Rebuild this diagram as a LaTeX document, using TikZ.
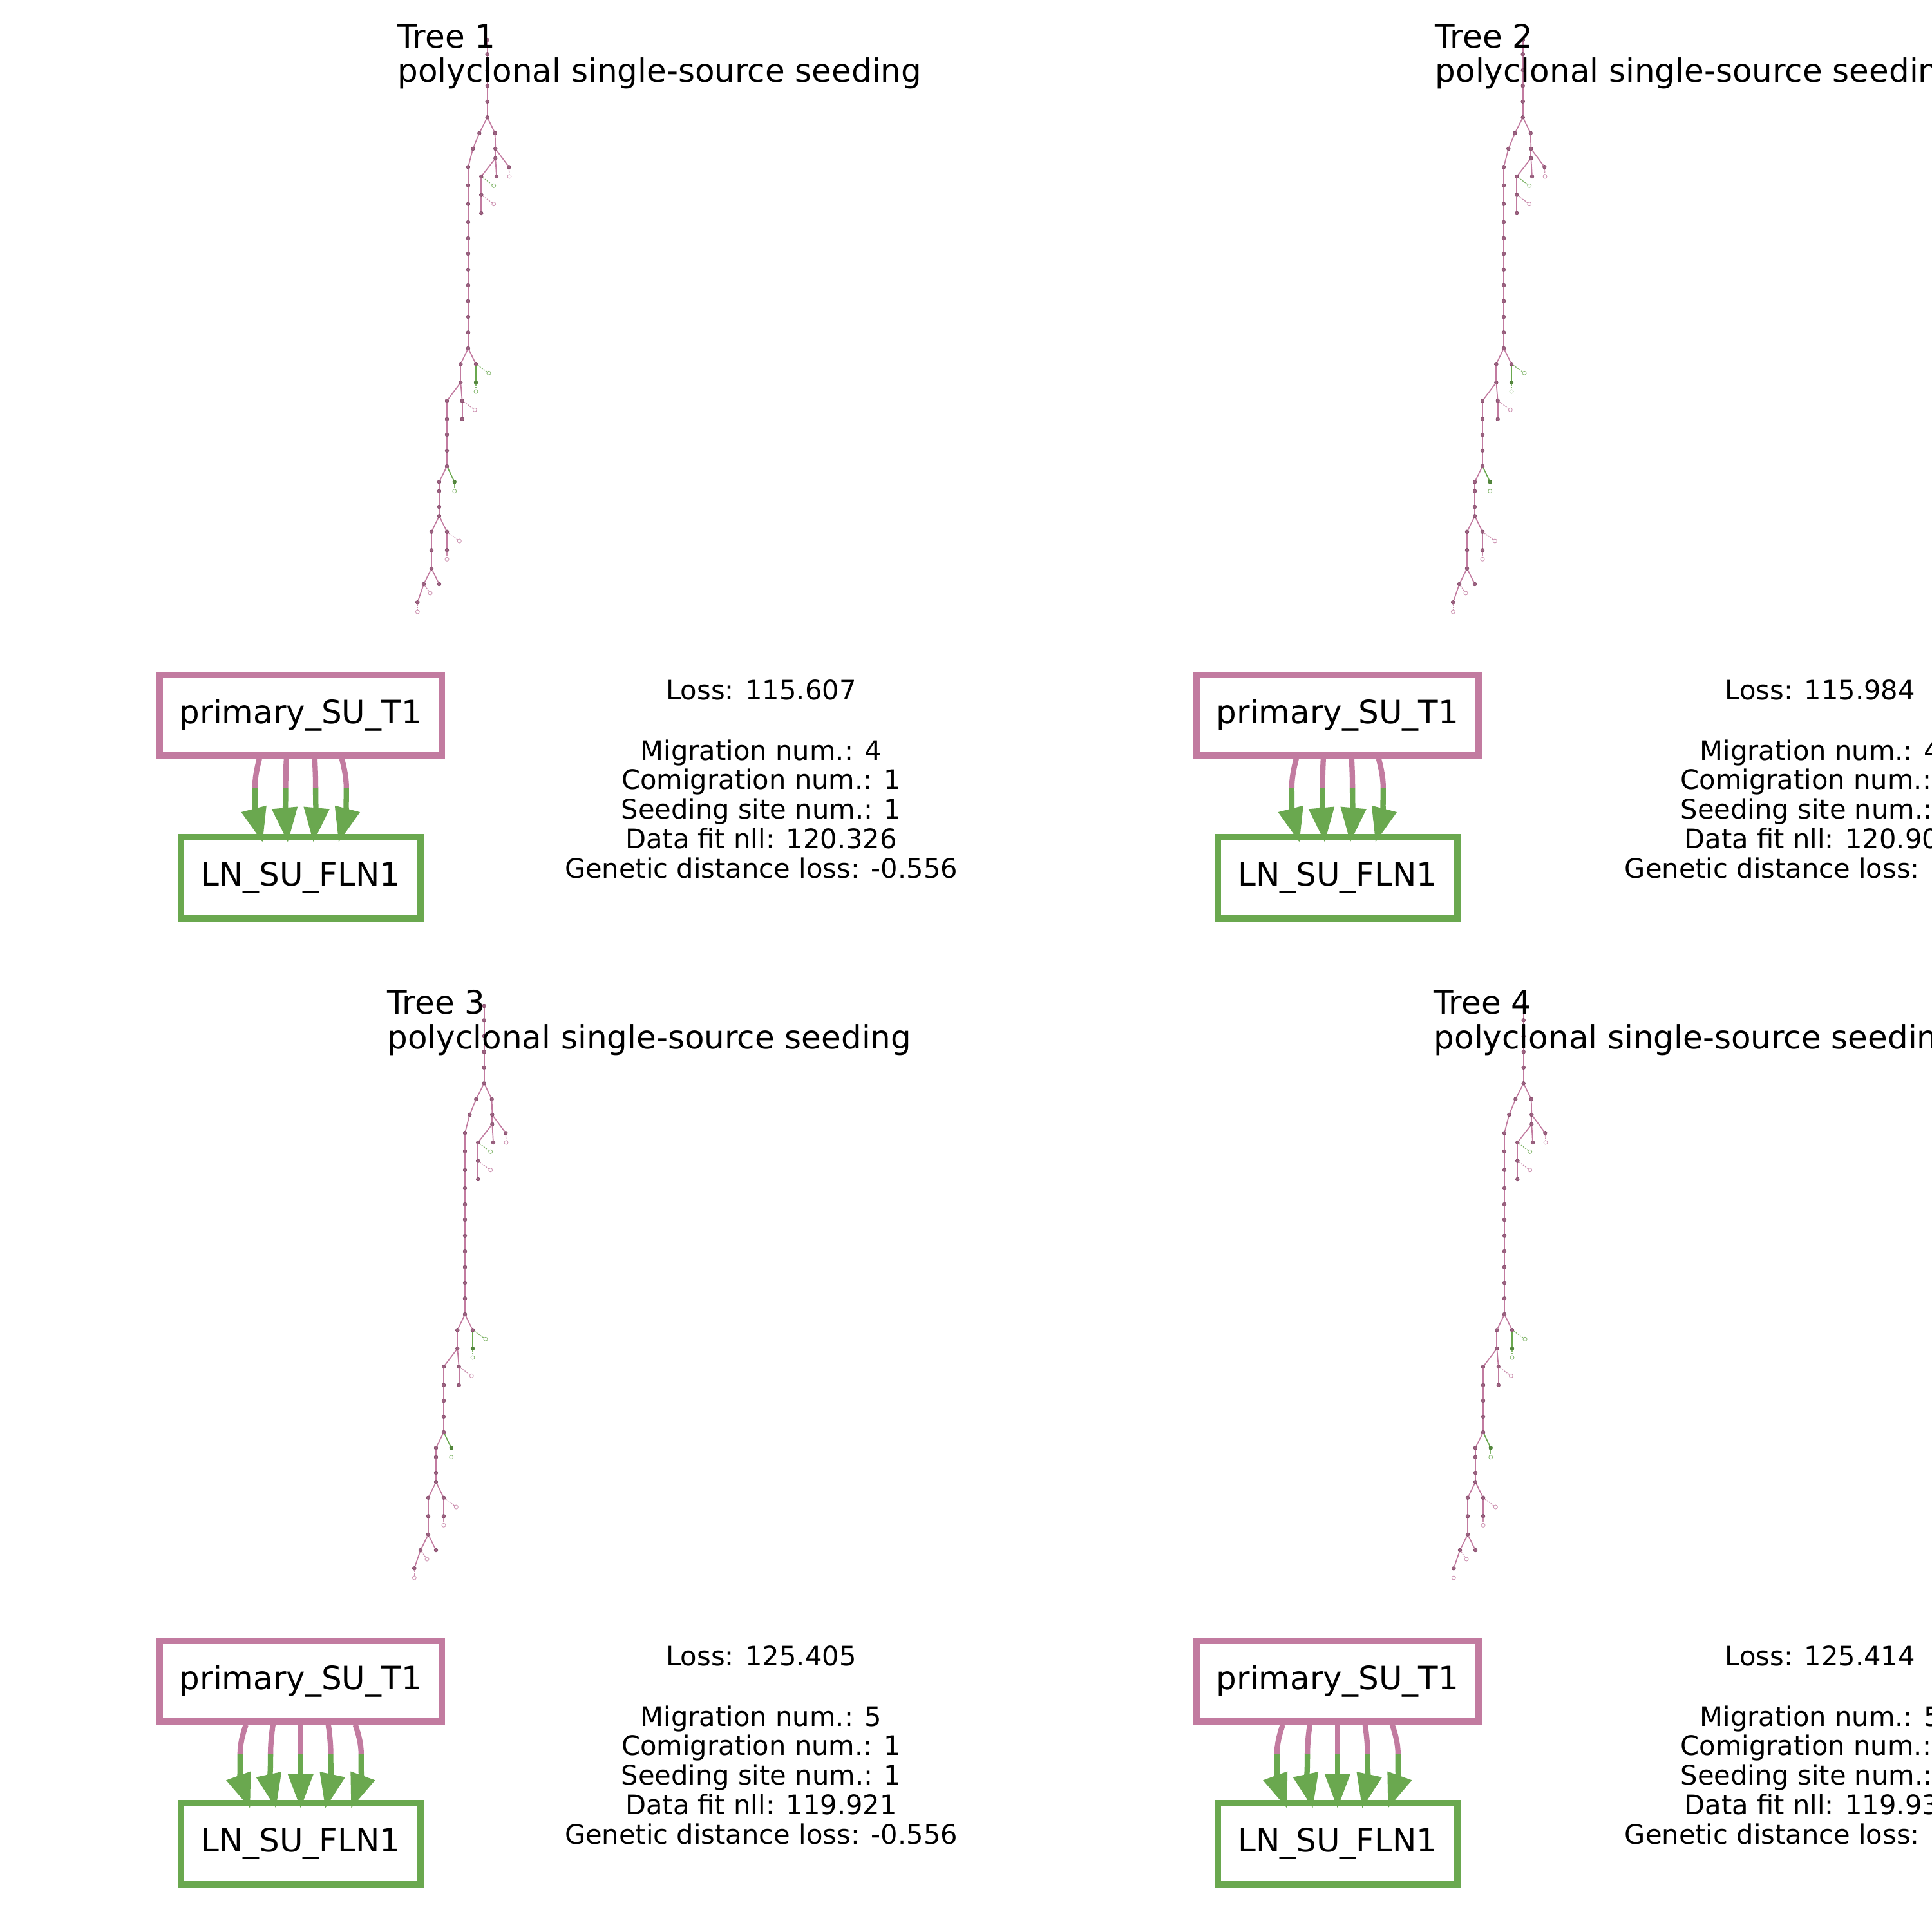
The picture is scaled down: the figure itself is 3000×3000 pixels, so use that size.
\documentclass[tikz,border=0pt]{standalone}
\usepackage{fontspec}
\setmainfont{DejaVu Sans}
\usetikzlibrary{arrows.meta,calc}
\definecolor{pk}{HTML}{C27BA0}
\definecolor{gr}{HTML}{6AA84F}
\definecolor{pkd}{HTML}{7E3F62}
\definecolor{grd}{HTML}{3E7A26}
\newcommand{\bigfont}{\fontsize{14.2}{17}\selectfont}
\newcommand{\statfont}{\fontsize{11.84}{14}\selectfont}
\newcommand{\drawtree}[3]{%
\begin{scope}[shift={(#1,#2)}]
\foreach \nm/\x/\y in {n0/756.7/62, n1/756.7/84.3, n2/756.7/109, n3/756.7/133.3, n4/756.7/157.7, n5/756.7/182.3,
 a1/744.3/206.7, a2/734.3/231, b1/768.7/206.7, b2/769.3/231, b3/769.3/245.7, b4/790.3/259.3, b5/771/274, b6/747.3/274, b7/747.3/302.7, b8/747.3/331,
 c1/727/259.3, c2/727/287.7, c3/727/316.7, c4/727/345, c5/727/370, c6/727/394, c7/727/418.7, c8/727/443, c9/727/467.7, c10/727/492, c11/727/516.3, c12/727/541,
 d1/715.3/565.3, d2/715.3/594, e1/739/565.3, f1/694/622.3, f2/694/650.7, f3/694/675, f4/694/699.7, f5/694/724,
 g1/717.7/622.3, g2/717.7/650.7, h1/682/748.3, h2/682/762.7, h3/682/787, h4/682/801.3,
 j1/670/825.7, j2/670/854.3, j3/670/882.7, k1/694/825.7, k2/694/854.3, l1/658/907, l2/648.3/935.3, m1/682/907}
 {\node[tn] (#3\nm) at (\x,\y) {};}
\foreach \nm/\x/\y in {e2/739/594, i1/705.7/748.3}
 {\node[tg] (#3\nm) at (\x,\y) {};}
\foreach \nm/\x/\y in {b4h/791/274, b7h/766.7/316.7, g1h/737.3/636.3, k1h/713.3/840, k2h/694/868.3, l1h/668/921, l2h/648.3/950}
 {\node[th] (#3\nm) at (\x,\y) {};}
\foreach \nm/\x/\y in {b6h/766.7/288.3, e1h/759/579.3, e2h/739/608, i1h/705.7/762.7}
 {\node[thg] (#3\nm) at (\x,\y) {};}
\foreach \a/\b in {n0/n1, n1/n2, n2/n3, n3/n4, n4/n5, n5/a1, a1/a2, a2/c1, n5/b1, b1/b2, b2/b3, b2/b4, b3/b5, b3/b6, b6/b7, b7/b8,
 c1/c2, c2/c3, c3/c4, c4/c5, c5/c6, c6/c7, c7/c8, c8/c9, c9/c10, c10/c11, c11/c12, c12/d1, c12/e1, d1/d2, d2/f1, d2/g1, g1/g2,
 f1/f2, f2/f3, f3/f4, f4/f5, f5/h1, h1/h2, h2/h3, h3/h4, h4/j1, h4/k1, k1/k2, j1/j2, j2/j3, j3/l1, j3/m1, l1/l2}
 {\draw[te] (#3\a) -- (#3\b);}
\foreach \a/\b in {e1/e2, f5/i1} {\draw[teg] (#3\a) -- (#3\b);}
\foreach \a/\b in {b4/b4h, b7/b7h, g1/g1h, k1/k1h, k2/k2h, l1/l1h, l2/l2h} {\draw[ted] (#3\a) -- (#3\b);}
\foreach \a/\b in {b6/b6h, e1/e1h, e2/e2h, i1/i1h} {\draw[tegd] (#3\a) -- (#3\b);}
\end{scope}}
% #1 src, #2 dst, #3 start, #4 mid, #5 head base, #6 tip (x offsets)
\newcommand{\migarrow}[6]{%
\draw[pk,mig] ($(#1.south)+(#3,0)$) .. controls ($(#1.south)+({(#3)+0.6*((#4)-(#3))},16)$) and ($(#1.south)+(#4,30)$) .. ($(#1.south)+(#4,45.5)$);
\draw[gr,mig,-{Triangle[length=0.54cm,width=0.38cm]}] ($(#1.south)+(#4,45)$) .. controls ($(#1.south)+(#4,65)$) and ($(#1.south)+(#5,87.7)$) .. ($(#2.north)+(#6,13.3)$);}
\begin{document}
\begin{tikzpicture}[x=0.01cm,y=-0.01cm,
  tn/.style={circle,inner sep=0pt,minimum size=0.058cm,fill=pk!80!black,draw=pkd,line width=0.15pt},
  tg/.style={circle,inner sep=0pt,minimum size=0.058cm,fill=gr!80!black,draw=grd,line width=0.15pt},
  th/.style={circle,inner sep=0pt,minimum size=0.06cm,fill=white,draw=pk!80,line width=0.25pt},
  thg/.style={circle,inner sep=0pt,minimum size=0.06cm,fill=white,draw=gr!80,line width=0.25pt},
  te/.style={draw=pk,line width=0.017cm},
  teg/.style={draw=gr,line width=0.017cm},
  ted/.style={draw=pk!85,line width=0.013cm,dash pattern=on 0.022cm off 0.016cm},
  tegd/.style={draw=gr!85,line width=0.013cm,dash pattern=on 0.022cm off 0.016cm},
  pbox/.style={draw=pk,line width=0.1cm,minimum width=4.383cm,minimum height=1.256cm,inner sep=0pt,font=\bigfont},
  lbox/.style={draw=gr,line width=0.1cm,minimum width=3.717cm,minimum height=1.257cm,inner sep=0pt,font=\bigfont},
  mig/.style={line width=0.083cm},
  ttl/.style={anchor=base west,inner sep=0pt,font=\bigfont},
  stat/.style={anchor=base,inner sep=0pt,font=\statfont},
  statw/.style={anchor=base west,inner sep=0pt,font=\statfont}]
\useasboundingbox (0,0) rectangle (3000,3000);

% trees
\drawtree{0}{0}{ta}
\drawtree{1608}{0}{tb}
\drawtree{-5}{1500}{tc}
\drawtree{1609}{1500}{td}

% titles
\node[ttl] (t1a) at (617,75) {Tree 1};
\node[ttl] (t1b) at (617,128) {polyclonal single-source seeding};
\node[ttl] (t2a) at (2228,75) {Tree 2};
\node[ttl] (t2b) at (2228,128) {polyclonal single-source seedin};
\node[ttl] (t3a) at (601,1574) {Tree 3};
\node[ttl] (t3b) at (601,1628) {polyclonal single-source seeding};
\node[ttl] (t4a) at (2226,1574) {Tree 4};
\node[ttl] (t4b) at (2226,1628) {polyclonal single-source seedin};

% migration graphs
\node[pbox] (p1) at (466.8,1110.5) {primary\_SU\_T1};
\node[lbox] (q1) at (466.8,1362.8) {LN\_SU\_FLN1};
\node[pbox] (p2) at (2076.8,1110.5) {primary\_SU\_T1};
\node[lbox] (q2) at (2076.8,1362.8) {LN\_SU\_FLN1};
\node[pbox] (p3) at (466.8,2610.5) {primary\_SU\_T1};
\node[lbox] (q3) at (466.8,2862.8) {LN\_SU\_FLN1};
\node[pbox] (p4) at (2076.8,2610.5) {primary\_SU\_T1};
\node[lbox] (q4) at (2076.8,2862.8) {LN\_SU\_FLN1};

\foreach \P/\Q in {p1/q1, p2/q2} {
  \migarrow{\P}{\Q}{-64}{-71}{-70}{-59}
  \migarrow{\P}{\Q}{-22}{-23.3}{-23.7}{-19.8}
  \migarrow{\P}{\Q}{22}{23.3}{23.7}{19.8}
  \migarrow{\P}{\Q}{64}{71}{70}{59}
}
\foreach \P/\Q in {p3/q3, p4/q4} {
  \migarrow{\P}{\Q}{-85}{-94}{-93.5}{-78.3}
  \migarrow{\P}{\Q}{-43}{-46.7}{-47.2}{-38.3}
  \migarrow{\P}{\Q}{0}{0}{0}{0}
  \migarrow{\P}{\Q}{43}{46.7}{47.2}{38.3}
  \migarrow{\P}{\Q}{85}{94}{93.5}{78.3}
}

% statistics
\node[stat] (s1a) at (1182,1086.7) {Loss: 115.607};
\node[stat] (s1b) at (1182,1180) {Migration num.: 4};
\node[stat] (s1c) at (1182,1225.5) {Comigration num.: 1};
\node[stat] (s1d) at (1182,1271) {Seeding site num.: 1};
\node[stat] (s1e) at (1182,1317) {Data fit nll: 120.326};
\node[stat] (s1f) at (1182,1363) {Genetic distance loss: -0.556};

\node[statw] (s2a) at (2678,1086.7) {Loss: 115.984};
\node[statw] (s2b) at (2639,1180) {Migration num.: 4};
\node[statw] (s2c) at (2609,1225.5) {Comigration num.:};
\node[statw] (s2d) at (2609,1271) {Seeding site num.:};
\node[statw] (s2e) at (2615,1317) {Data fit nll: 120.90};
\node[statw] (s2f) at (2522,1363) {Genetic distance loss: -};

\node[stat] (s3a) at (1182,2586.7) {Loss: 125.405};
\node[stat] (s3b) at (1182,2680) {Migration num.: 5};
\node[stat] (s3c) at (1182,2725.5) {Comigration num.: 1};
\node[stat] (s3d) at (1182,2771) {Seeding site num.: 1};
\node[stat] (s3e) at (1182,2817) {Data fit nll: 119.921};
\node[stat] (s3f) at (1182,2863) {Genetic distance loss: -0.556};

\node[statw] (s4a) at (2678,2586.7) {Loss: 125.414};
\node[statw] (s4b) at (2639,2680) {Migration num.: 5};
\node[statw] (s4c) at (2609,2725.5) {Comigration num.:};
\node[statw] (s4d) at (2609,2771) {Seeding site num.:};
\node[statw] (s4e) at (2615,2817) {Data fit nll: 119.93};
\node[statw] (s4f) at (2522,2863) {Genetic distance loss: -};
\end{tikzpicture}
\end{document}
